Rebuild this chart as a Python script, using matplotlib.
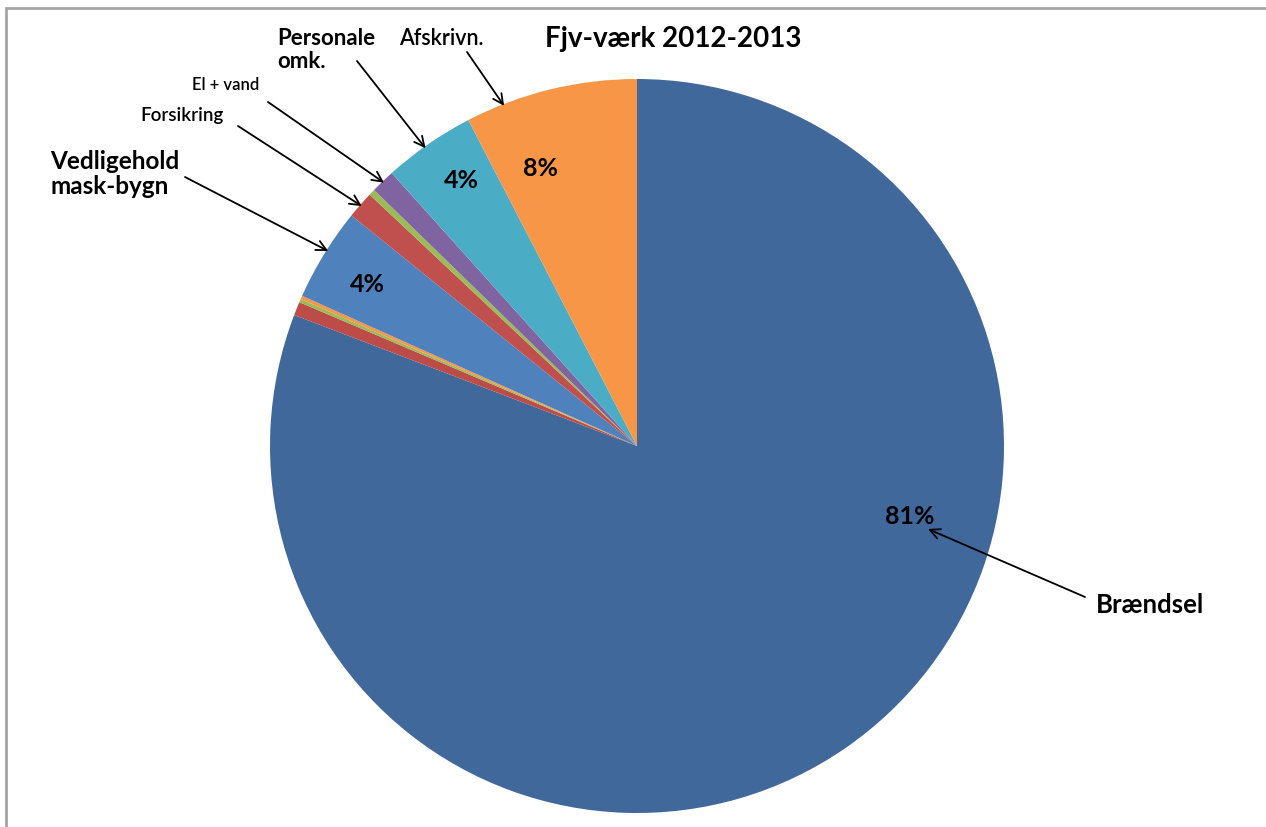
import matplotlib.pyplot as plt
import numpy as np

# udgiftsposter i procent af de samlede omkostninger
poster = ['Brændsel', '', '', '', 'Vedligehold\nmask-bygn', 'Forsikring', '',
          'El + vand', 'Personale\nomk.', 'Afskrivn.']
andele = [80.8, 0.6, 0.15, 0.15, 4.1, 1.2, 0.28, 1.06, 4.05, 7.6]
farver = ['#41689b', '#bd4b48', '#9bbb59', '#f79646', '#4f81bd', '#c0504d',
          '#9bbb59', '#8064a2', '#4bacc6', '#f79646']
# hvilke stykker der får procent-tal skrevet på
vis_pct = [0, 4, 8, 9]

W, H = 1266, 828
fig = plt.figure(figsize=(W / 100, H / 100), dpi=100)
ax = fig.add_axes([0, 0, 1, 1])

def px(x, y):
    # pixel (oppefra) -> data (nedefra)
    return (x, H - y)

cx, cy = px(637, 447)
R = 367
wedges, _ = ax.pie(andele, colors=farver, startangle=90, counterclock=False,
                   center=(cx, cy), radius=R, wedgeprops=dict(linewidth=0))
ax.set_xlim(0, W)
ax.set_ylim(0, H)
ax.set_aspect('auto')
ax.axis('off')

font = 'Lato'

# procent-tal
pct_pos = {0: (910, 517), 4: (367, 284), 8: (461, 181), 9: (540, 169)}
for i in vis_pct:
    ax.text(*px(*pct_pos[i]), f"{round(andele[i])}%", ha='center', va='center',
            fontsize=18, fontweight='bold', family=font)

# navne med pile ind til stykkerne
# (index, tekstposition, pilens start, brøkdel af vinklen, fontsize, vægt, justering)
pile = [
    (4, (50, 174), (185, 178), 0.45, 17.5, 'bold', 'left'),
    (5, (182, 115), (238, 127), 0.5, 13.5, 'semibold', 'center'),
    (7, (226, 85), (268, 103), 0.5, 12, 'semibold', 'center'),
    (8, (277, 50), (357, 62), 0.55, 16, 'bold', 'left'),
    (9, (441, 38), (467, 53), 0.78, 15.5, 'semibold', 'center'),
]
for i, tpos, start, frac, fs, fw, ha in pile:
    w = wedges[i]
    ang = np.deg2rad(w.theta1 + frac * (w.theta2 - w.theta1))
    mål = (cx + 0.995 * R * np.cos(ang), cy + 0.995 * R * np.sin(ang))
    ax.text(*px(*tpos), poster[i], ha=ha, va='center', fontsize=fs,
            fontweight=fw, family=font, linespacing=1.1)
    ax.annotate('', xy=mål, xytext=px(*start),
                arrowprops=dict(arrowstyle='->', color='black', lw=1.3,
                                mutation_scale=18, shrinkA=0, shrinkB=0))

# Brændsel peger på procent-tallet
ax.text(*px(1150, 605), poster[0], ha='center', va='center', fontsize=18.5,
        fontweight='bold', family=font)
ax.annotate('', xy=px(928, 530), xytext=px(1085, 598),
            arrowprops=dict(arrowstyle='->', color='black', lw=1.3,
                            mutation_scale=18, shrinkA=0, shrinkB=0))

ax.text(*px(673, 39), 'Fjv-værk 2012-2013', ha='center', va='center',
        fontsize=20, fontweight='bold', family=font)

# ramme: kun venstre og øverste kant er med
ax.plot(*zip(px(6, H + 5), px(6, 9), px(W + 5, 9)), color='#a6a6a6', lw=2,
        clip_on=False, solid_joinstyle='miter')

fig.savefig('out.png', dpi=100)
